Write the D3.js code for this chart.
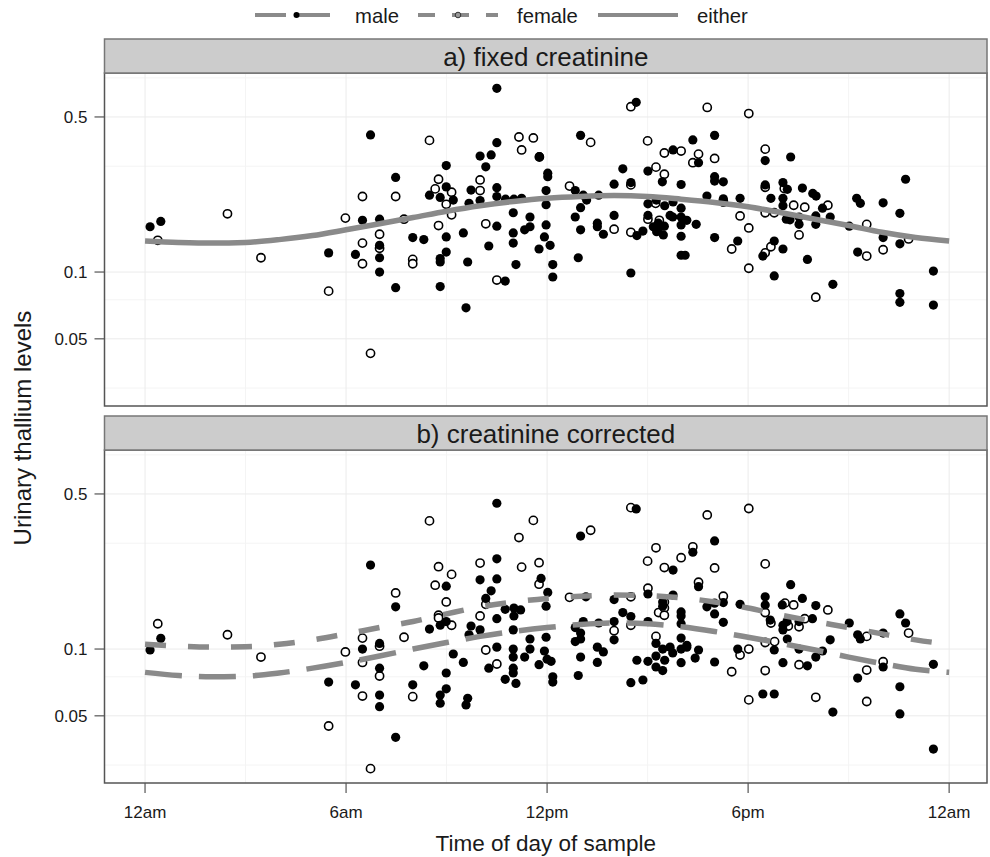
<!DOCTYPE html>
<html>
<head>
<meta charset="utf-8">
<script src="https://cdn.jsdelivr.net/npm/d3@7"></script>
<style>
  body { margin: 0; background: #fff; }
  svg { display: block; font-family: "Liberation Sans", Arial, Helvetica, sans-serif; }
</style>
</head>
<body>
<div id="chart"></div>
<script>
// ---- data (hour of day, urinary thallium) ----
const panelTitles = ['a) fixed creatinine', 'b) creatinine corrected'];
const xTickHours = [0, 6, 12, 18, 24];
const xTickLabels = ['12am', '6am', '12pm', '6pm', '12am'];
const yTickValues = [0.05, 0.1, 0.5];
const yTickLabels = ['0.05', '0.1', '0.5'];
const curveHours = d3.range(0, 25);

// panel a: fixed creatinine
const maleA = [
  [0.15,0.160],[0.47,0.169],[6.73,0.415],[7.48,0.267],[6.49,0.171],[7.0,0.173],[5.48,0.122],[6.28,0.120],[7.0,0.132],[7.0,0.116],[7.0,0.100],[7.48,0.085],
  [10.5,0.673],[14.66,0.582],[13.0,0.413],[10.5,0.383],[10.0,0.333],[10.33,0.337],[11.77,0.331],[8.99,0.302],[10.17,0.298],[12.02,0.279],[12.02,0.269],
  [14.26,0.292],[15.76,0.355],[15.01,0.285],[15.44,0.255],[16.0,0.248],[14.0,0.249],[14.5,0.253],[8.49,0.222],[8.99,0.242],[8.81,0.217],[9.2,0.211],
  [9.73,0.234],[9.67,0.204],[10.0,0.21],[10.5,0.24],[10.5,0.219],[10.76,0.213],[11.01,0.213],[11.24,0.215],[10.99,0.185],[11.97,0.233],[11.97,0.201],
  [11.49,0.177],[12.84,0.233],[13.08,0.222],[13.18,0.211],[13.0,0.195],[13.54,0.222],[12.84,0.177],[14.0,0.18],[15.01,0.203],[15.01,0.18],[15.26,0.211],
  [15.51,0.199],[15.76,0.207],[15.67,0.18],[16.0,0.194],[16.0,0.177],[16.0,0.163],[16.0,0.145],[16.0,0.119],[16.12,0.119],[10.5,0.161],[10.99,0.150],
  [10.99,0.135],[11.33,0.155],[11.49,0.160],[11.97,0.163],[11.92,0.144],[12.09,0.132],[11.76,0.127],[12.17,0.108],[12.17,0.095],[11.07,0.108],
  [10.26,0.131],[9.5,0.15],[9.63,0.111],[8.99,0.144],[8.99,0.123],[8.81,0.115],[8.81,0.111],[7.99,0.143],[8.32,0.140],[8.81,0.086],[10.75,0.091],
  [9.58,0.069],[12.93,0.116],[13.5,0.166],[13.5,0.16],[13.68,0.148],[13.0,0.155],[14.5,0.099],[14.68,0.146],[14.86,0.153],[15.17,0.16],[15.27,0.152],
  [15.37,0.16],[15.47,0.147],[15.5,0.161],[15.75,0.177],[15.32,0.166],
  [16.35,0.394],[17.0,0.413],[16.52,0.311],[17.0,0.269],[17.0,0.257],[17.26,0.255],[16.77,0.220],[17.26,0.214],[17.26,0.206],[17.76,0.215],
  [18.51,0.318],[18.51,0.247],[19.27,0.33],[19.04,0.253],[19.17,0.236],[19.62,0.239],[19.93,0.226],[20.03,0.220],[18.68,0.215],[19.04,0.215],
  [19.04,0.199],[19.14,0.173],[19.25,0.172],[19.52,0.177],[19.52,0.164],[20.02,0.179],[20.02,0.164],[20.22,0.194],[20.45,0.177],[21.02,0.161],
  [21.24,0.215],[21.35,0.204],[22.03,0.205],[22.53,0.184],[22.7,0.262],[22.53,0.134],[22.03,0.143],[21.27,0.123],[19.77,0.114],[19.04,0.127],
  [18.78,0.138],[18.44,0.118],[18.78,0.096],[20.53,0.088],[17.69,0.138],[17.0,0.143],[16.45,0.164],[16.17,0.171],[23.53,0.101],[22.53,0.080],
  [22.53,0.073],[23.53,0.071]
];
const femaleA = [
  [0.38,0.139],[2.46,0.183],[3.46,0.116],[5.48,0.082],[5.98,0.175],[6.49,0.219],[6.49,0.135],[6.49,0.109],[7.0,0.148],[7.0,0.128],[6.73,0.043],[7.48,0.219],
  [14.5,0.556],[8.49,0.392],[11.16,0.406],[11.59,0.402],[11.24,0.355],[11.77,0.33],[13.3,0.384],[15.0,0.39],[15.5,0.344],[16.0,0.351],[15.25,0.297],
  [15.5,0.276],[8.76,0.262],[8.66,0.237],[9.15,0.229],[8.99,0.202],[9.15,0.181],[8.76,0.162],[7.73,0.173],[7.99,0.114],[7.99,0.109],[10.0,0.26],
  [10.0,0.233],[10.17,0.165],[10.5,0.092],[12.67,0.244],[14.0,0.156],[14.5,0.247],[14.5,0.151],[15.01,0.173],[15.24,0.204],[15.35,0.171],
  [16.78,0.552],[18.02,0.518],[16.52,0.34],[16.35,0.311],[17.0,0.325],[18.51,0.358],[18.51,0.241],[17.26,0.209],[17.76,0.179],[18.02,0.158],
  [17.51,0.127],[18.02,0.104],[18.51,0.185],[18.78,0.185],[18.51,0.122],[18.68,0.130],[19.36,0.2],[19.69,0.196],[20.38,0.2],[19.52,0.147],
  [20.02,0.077],[21.54,0.164],[21.54,0.118],[22.03,0.126],[22.79,0.141],[19.08,0.238]
];
const eitherA = [0.138,0.136,0.135,0.136,0.140,0.146,0.155,0.165,0.176,0.188,0.199,0.208,0.215,0.219,0.221,0.219,0.213,0.206,0.197,0.185,0.173,0.162,0.151,0.143,0.138];

// panel b: creatinine corrected
const maleB = [
  [0.15,0.099],[0.47,0.1117],[6.73,0.239],[7.48,0.155],[6.49,0.1],[7.0,0.106],[7.0,0.082],[5.48,0.071],[6.28,0.069],[7.0,0.062],[7.0,0.055],[7.48,0.040],
  [10.5,0.454],[14.66,0.428],[13.0,0.323],[10.5,0.255],[10.5,0.207],[10.0,0.205],[10.33,0.183],[10.17,0.169],[8.99,0.192],[11.82,0.208],[12.02,0.180],
  [11.97,0.156],[15.76,0.227],[15.76,0.175],[8.49,0.123],[8.81,0.128],[8.99,0.133],[9.73,0.127],[9.67,0.116],[10.0,0.122],[10.5,0.137],[10.75,0.151],
  [11.01,0.153],[11.01,0.141],[11.21,0.15],[10.99,0.122],[10.5,0.102],[10.99,0.1],[10.99,0.092],[11.33,0.092],[11.49,0.1],[11.49,0.111],[11.97,0.113],
  [11.92,0.098],[12.0,0.090],[12.12,0.088],[11.76,0.085],[10.99,0.082],[10.99,0.078],[10.75,0.073],[11.07,0.070],[10.26,0.082],[9.2,0.095],[9.5,0.087],
  [8.99,0.078],[8.99,0.0662],[8.81,0.062],[8.81,0.057],[8.32,0.084],[7.99,0.069],[9.63,0.060],[9.58,0.056],[12.17,0.075],[12.17,0.071],[12.93,0.076],
  [12.84,0.125],[13.0,0.118],[13.0,0.111],[12.84,0.108],[13.08,0.133],[13.16,0.172],[13.54,0.131],[13.0,0.092],[13.5,0.102],[13.68,0.097],[13.5,0.087],
  [14.0,0.167],[14.0,0.133],[14.0,0.110],[14.26,0.146],[14.5,0.140],[14.5,0.0705],[14.68,0.089],[14.86,0.0725],[15.01,0.133],[15.01,0.088],[15.01,0.177],
  [15.25,0.106],[15.25,0.093],[15.25,0.083],[15.45,0.080],[15.51,0.089],[15.45,0.1],[15.45,0.163],[15.45,0.156],[15.67,0.102],[15.75,0.096],
  [16.0,0.147],[16.0,0.141],[16.0,0.130],[16.0,0.112],[16.0,0.1],[16.0,0.0868],[16.17,0.102],
  [17.0,0.307],[16.35,0.273],[16.52,0.191],[19.27,0.195],[18.51,0.172],[18.51,0.158],[19.62,0.169],[19.02,0.158],[20.02,0.157],[17.76,0.159],
  [16.77,0.155],[17.0,0.161],[17.0,0.144],[17.26,0.162],[17.26,0.132],[16.17,0.104],[16.52,0.099],[16.42,0.091],[17.0,0.0874],[17.69,0.1],
  [18.66,0.135],[18.78,0.099],[19.04,0.128],[19.04,0.122],[19.16,0.133],[19.52,0.133],[19.17,0.111],[19.52,0.1],[19.92,0.137],[20.22,0.098],
  [20.02,0.092],[19.77,0.084],[20.45,0.110],[19.04,0.0868],[18.44,0.0627],[18.78,0.0627],[20.53,0.052],[21.02,0.131],[21.27,0.116],[21.35,0.111],
  [21.27,0.074],[22.03,0.118],[22.03,0.083],[22.53,0.144],[22.7,0.131],[22.53,0.0676],[22.53,0.051],[23.53,0.0853],[23.53,0.0354]
];
const femaleB = [
  [0.38,0.130],[2.46,0.116],[3.46,0.092],[5.48,0.045],[5.98,0.097],[6.49,0.112],[6.49,0.087],[6.49,0.0614],[7.0,0.103],[7.0,0.0756],[6.73,0.0289],[7.48,0.179],
  [14.5,0.434],[8.49,0.378],[11.59,0.380],[11.16,0.318],[13.3,0.343],[8.76,0.235],[9.15,0.217],[8.66,0.194],[8.99,0.163],[8.76,0.142],[8.76,0.138],
  [9.15,0.128],[7.73,0.113],[7.99,0.061],[10.0,0.244],[10.17,0.159],[10.0,0.141],[10.17,0.099],[10.5,0.0856],[11.24,0.234],[11.76,0.245],[11.76,0.196],
  [12.67,0.171],[14.0,0.121],[14.5,0.172],[14.5,0.128],[15.0,0.249],[15.01,0.188],[15.25,0.286],[15.5,0.233],[16.0,0.258],[15.33,0.146],[15.5,0.163],
  [15.5,0.153],[15.5,0.142],[15.25,0.114],
  [16.78,0.402],[18.02,0.43],[16.35,0.289],[17.0,0.232],[16.52,0.2],[18.51,0.242],[17.26,0.173],[18.51,0.146],[18.68,0.131],[19.1,0.161],[19.36,0.158],
  [19.2,0.127],[19.52,0.126],[19.69,0.137],[20.38,0.15],[18.02,0.1],[17.76,0.094],[17.51,0.079],[18.51,0.107],[18.79,0.108],[18.51,0.08],[18.02,0.059],
  [19.52,0.085],[20.02,0.0606],[21.54,0.114],[21.54,0.0804],[21.54,0.058],[22.03,0.0877],[22.79,0.118]
];
const maleLineB = [0.0785,0.076,0.075,0.0755,0.078,0.082,0.087,0.093,0.100,0.107,0.114,0.120,0.125,0.129,0.131,0.130,0.126,0.120,0.113,0.106,0.099,0.092,0.086,0.081,0.0785];
const femaleLineB = [0.105,0.103,0.102,0.1025,0.105,0.110,0.117,0.125,0.133,0.144,0.155,0.163,0.169,0.173,0.175,0.174,0.170,0.163,0.153,0.142,0.133,0.125,0.117,0.110,0.105];

// ---- layout ----
const W = 990, H = 857;
const plotLeft = 104.5, plotRight = 987;
const stripH = 34, panelH = 333;
const panelTops = [73, 450];
const lineGrey = '#8a8a8a';
const textCol = '#1a1a1a';

const svg = d3.select('#chart').append('svg')
  .attr('width', W).attr('height', H);

const x = d3.scaleLinear().domain([-1.21, 25.13]).range([plotLeft, plotRight]);

const panels = [
  { title: panelTitles[0], male: maleA, female: femaleA,
    lines: [{ values: eitherA, dash: null }] },
  { title: panelTitles[1], male: maleB, female: femaleB,
    lines: [{ values: maleLineB, dash: '37,17' }, { values: femaleLineB, dash: '21,22' }] }
];

panels.forEach((p, i) => {
  const top = panelTops[i];
  const y = d3.scaleLog().domain([0.0249, 0.789]).range([top + panelH, top]);
  const g = svg.append('g');

  // clip for marks
  const clipId = 'clip' + i;
  svg.append('clipPath').attr('id', clipId)
    .append('rect').attr('x', plotLeft).attr('y', top)
    .attr('width', plotRight - plotLeft).attr('height', panelH);

  // minor grid
  g.selectAll('.vminor').data([3, 9, 15, 21]).enter().append('line')
    .attr('x1', d => x(d)).attr('x2', d => x(d))
    .attr('y1', top).attr('y2', top + panelH)
    .attr('stroke', '#f4f4f4').attr('stroke-width', 1);
  g.selectAll('.hminor').data([0.03, 0.075, 0.3, 0.75]).enter().append('line')
    .attr('x1', plotLeft).attr('x2', plotRight)
    .attr('y1', d => y(d)).attr('y2', d => y(d))
    .attr('stroke', '#f4f4f4').attr('stroke-width', 1);
  // major grid
  g.selectAll('.vmajor').data(xTickHours).enter().append('line')
    .attr('x1', d => x(d)).attr('x2', d => x(d))
    .attr('y1', top).attr('y2', top + panelH)
    .attr('stroke', '#ebebeb').attr('stroke-width', 1);
  g.selectAll('.hmajor').data(yTickValues).enter().append('line')
    .attr('x1', plotLeft).attr('x2', plotRight)
    .attr('y1', d => y(d)).attr('y2', d => y(d))
    .attr('stroke', '#ebebeb').attr('stroke-width', 1);

  const marks = g.append('g').attr('clip-path', `url(#${clipId})`);

  // points
  marks.selectAll('.open').data(p.female).enter().append('circle')
    .attr('cx', d => x(d[0])).attr('cy', d => y(d[1])).attr('r', 4.1)
    .attr('fill', '#fff').attr('stroke', '#000').attr('stroke-width', 1.6);
  marks.selectAll('.filled').data(p.male).enter().append('circle')
    .attr('cx', d => x(d[0])).attr('cy', d => y(d[1])).attr('r', 4.6)
    .attr('fill', '#000');

  // smooth curves
  const line = d3.line()
    .x((d, k) => x(curveHours[k]))
    .y(d => y(d))
    .curve(d3.curveMonotoneX);
  p.lines.forEach(l => {
    marks.append('path').datum(l.values)
      .attr('d', line)
      .attr('fill', 'none')
      .attr('stroke', lineGrey)
      .attr('stroke-width', 5.5)
      .attr('stroke-dasharray', l.dash);
  });

  // panel border
  g.append('rect').attr('x', plotLeft).attr('y', top)
    .attr('width', plotRight - plotLeft).attr('height', panelH)
    .attr('fill', 'none').attr('stroke', '#555').attr('stroke-width', 1.5);

  // strip
  g.append('rect').attr('x', plotLeft).attr('y', top - stripH)
    .attr('width', plotRight - plotLeft).attr('height', stripH)
    .attr('fill', '#cccccc').attr('stroke', '#777').attr('stroke-width', 1.5);
  g.append('text').attr('x', (plotLeft + plotRight) / 2).attr('y', top - 7)
    .attr('text-anchor', 'middle').attr('font-size', 26).attr('fill', textCol)
    .text(p.title);

  // y axis ticks + labels
  g.selectAll('.ytick').data(yTickValues).enter().append('line')
    .attr('x1', plotLeft - 10).attr('x2', plotLeft)
    .attr('y1', d => y(d)).attr('y2', d => y(d))
    .attr('stroke', '#555').attr('stroke-width', 1.2);
  g.selectAll('.ylab').data(yTickValues).enter().append('text')
    .attr('x', plotLeft - 17).attr('y', d => y(d) + 6)
    .attr('text-anchor', 'end').attr('font-size', 17).attr('fill', textCol)
    .text((d, k) => yTickLabels[k]);
});

// x axis ticks and labels (bottom panel)
const bottom = panelTops[1] + panelH;
svg.selectAll('.xtick').data(xTickHours).enter().append('line')
  .attr('x1', d => x(d)).attr('x2', d => x(d))
  .attr('y1', bottom).attr('y2', bottom + 10)
  .attr('stroke', '#555').attr('stroke-width', 1.2);
svg.selectAll('.xlab').data(xTickHours).enter().append('text')
  .attr('x', d => x(d)).attr('y', bottom + 35)
  .attr('text-anchor', 'middle').attr('font-size', 17).attr('fill', textCol)
  .text((d, k) => xTickLabels[k]);

// axis titles
svg.append('text').attr('x', (plotLeft + plotRight) / 2).attr('y', 851)
  .attr('text-anchor', 'middle').attr('font-size', 22.5).attr('fill', textCol)
  .text('Time of day of sample');
svg.append('text')
  .attr('transform', `translate(31,${(panelTops[0] + bottom) / 2}) rotate(-90)`)
  .attr('text-anchor', 'middle').attr('font-size', 24).attr('fill', textCol)
  .text('Urinary thallium levels');

// legend
const legend = svg.append('g');
const legendY = 15;
const legendItems = [
  { label: 'male', x0: 255, x1: 332, dash: '31,13', textX: 355, point: 'filled' },
  { label: 'female', x0: 418, x1: 498, dash: '17,17', textX: 517, point: 'open' },
  { label: 'either', x0: 598, x1: 678, dash: null, textX: 697, point: null }
];
legendItems.forEach(it => {
  legend.append('line').attr('x1', it.x0).attr('x2', it.x1)
    .attr('y1', legendY).attr('y2', legendY)
    .attr('stroke', lineGrey).attr('stroke-width', 4)
    .attr('stroke-dasharray', it.dash);
  const cx = (it.x0 + it.x1) / 2;
  if (it.point === 'filled') {
    legend.append('circle').attr('cx', cx + 3).attr('cy', legendY).attr('r', 3)
      .attr('fill', '#000');
  } else if (it.point === 'open') {
    legend.append('circle').attr('cx', cx).attr('cy', legendY).attr('r', 2.8)
      .attr('fill', '#999').attr('stroke', '#333').attr('stroke-width', 1);
  }
  legend.append('text').attr('x', it.textX).attr('y', 23)
    .attr('font-size', 20.3).attr('fill', textCol).text(it.label);
});
</script>
</body>
</html>
